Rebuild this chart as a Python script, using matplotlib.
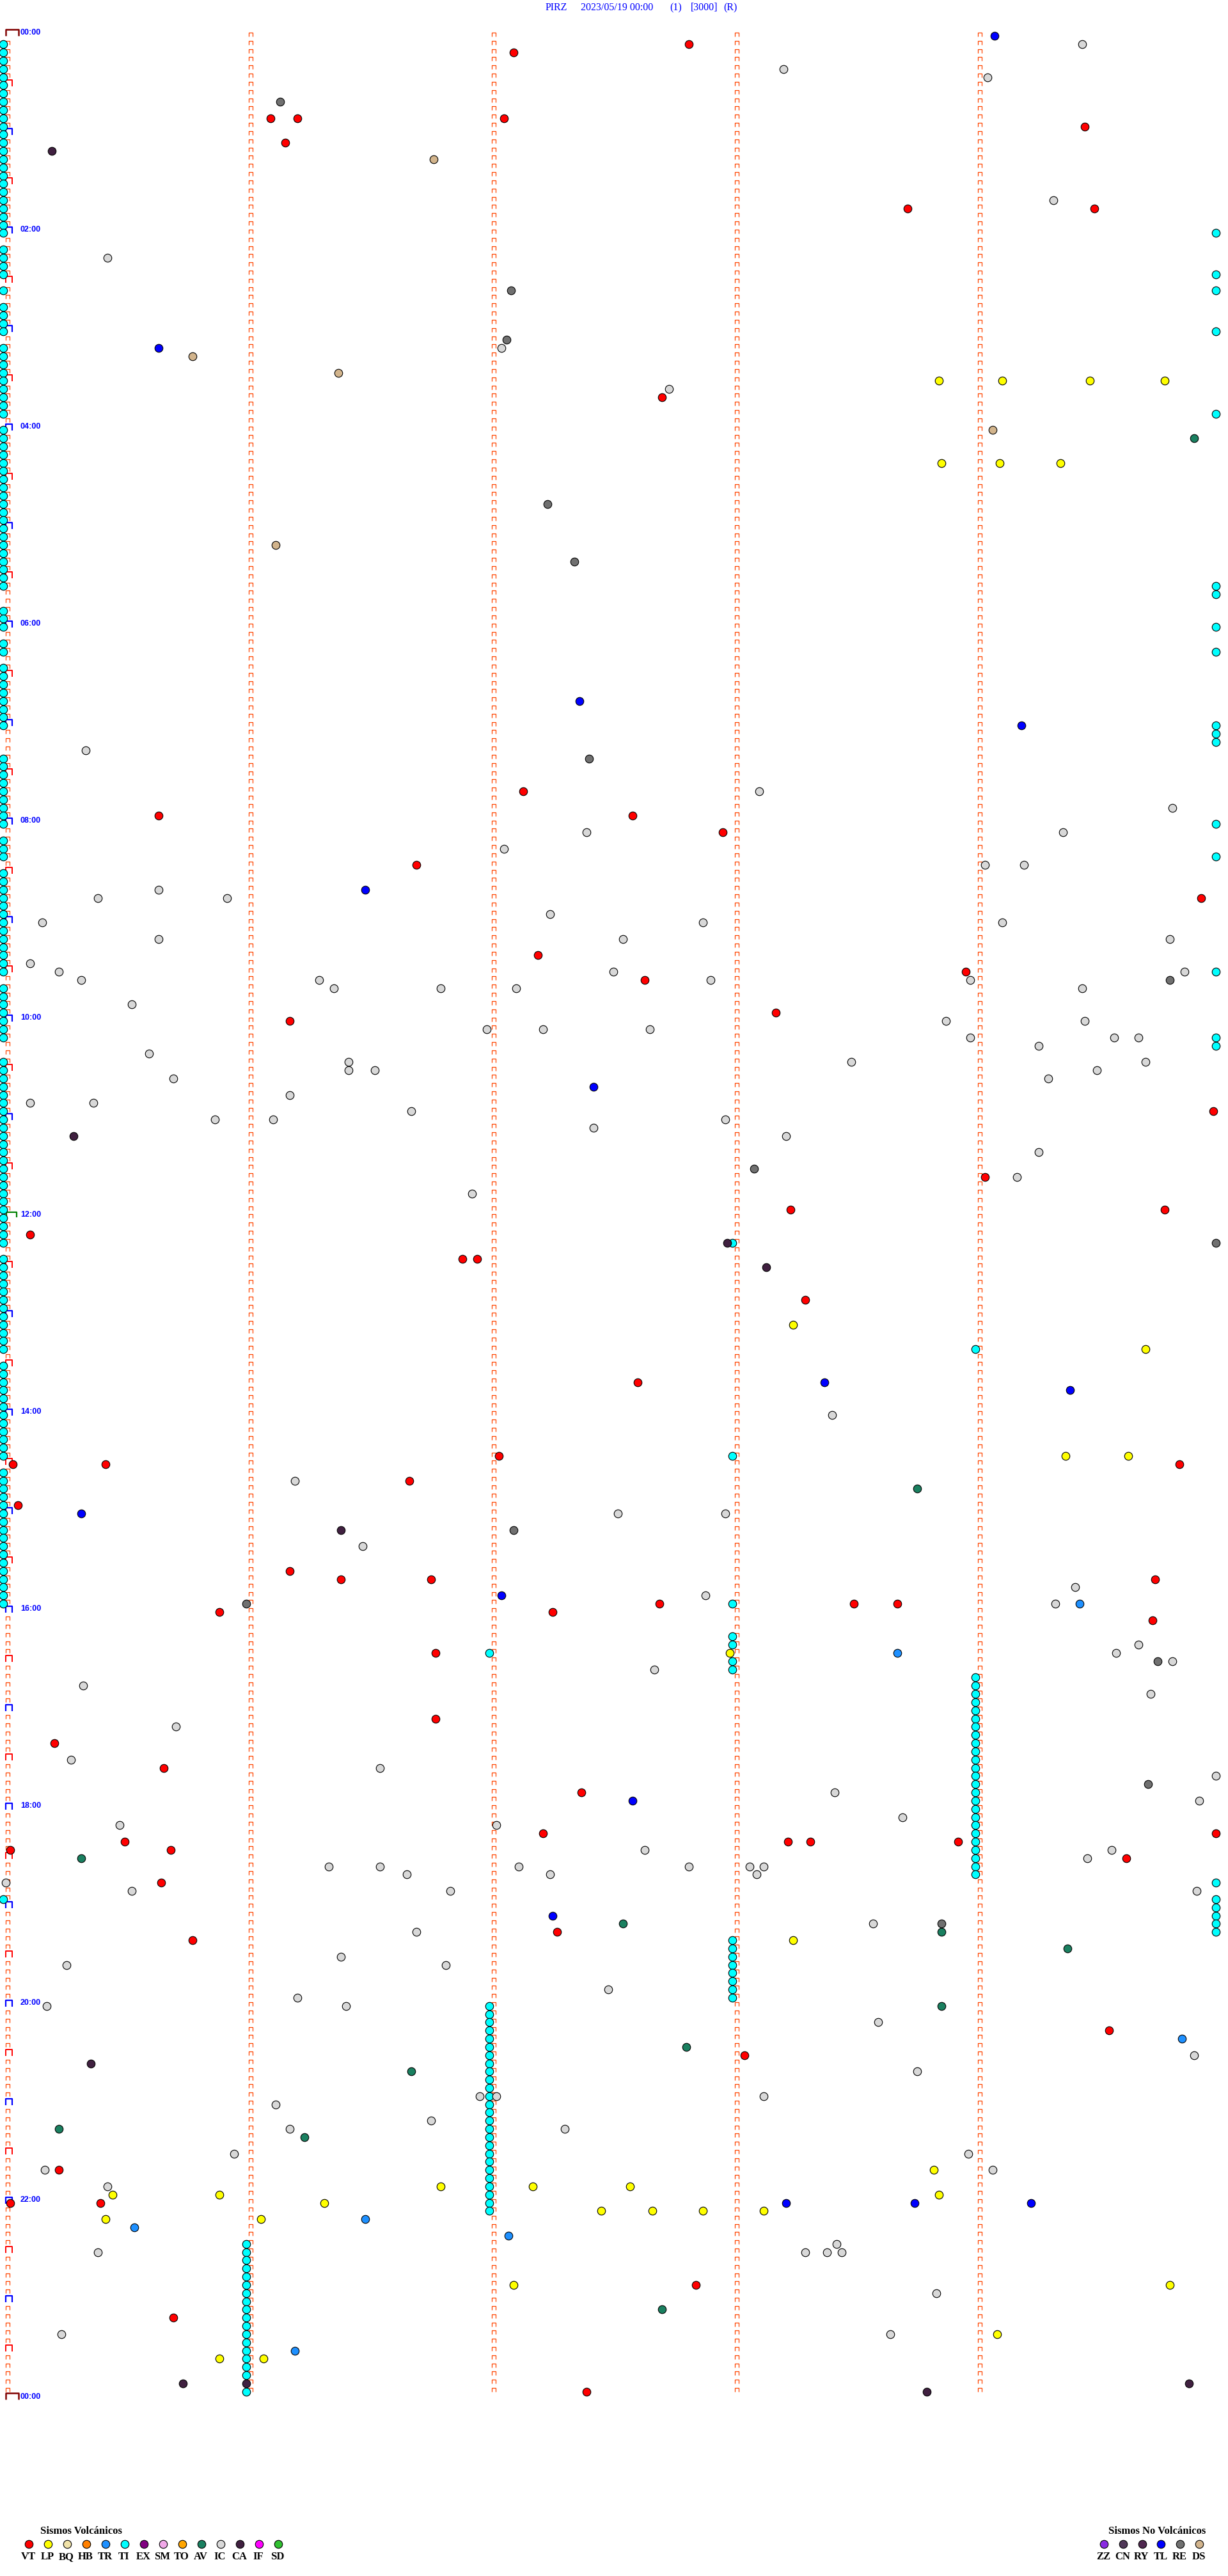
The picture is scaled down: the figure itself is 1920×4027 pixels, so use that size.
import matplotlib.pyplot as plt
from matplotlib.path import Path
import numpy as np

# PIRZ 2023/05/19 - event times in minutes after 00:00
# one row = 5 minutes, x inside a row = minute 0..5
station = "PIRZ"
day = "2023/05/19 00:00"

TI = [5, 10, 15, 20, 25, 30, 35, 40, 45, 50, 55, 60, 65, 70, 75, 80, 85, 90, 95, 100, 105, 110, 115, 120,
      124.99, 130, 135, 140, 145, 149.99, 155, 159.99, 165, 170, 175, 180, 184.99,
      190, 195, 200, 205, 210, 215, 220, 225, 230, 234.99,
      240, 245, 250, 255, 260, 265, 270, 275, 280, 285, 290, 295, 300, 305, 310, 315, 320, 325, 330, 335,
      339.99, 344.99, 350, 355, 360, 364.99, 370, 375, 379.99,
      385, 390, 395, 400, 405, 410, 415, 420, 424.99, 429.99, 434.99,
      440, 445, 450, 455, 460, 465, 470, 475, 480, 484.99, 490, 495, 500, 504.99,
      510, 515, 520, 525, 530, 535, 540, 545, 550, 555, 560, 565, 570, 574.99,
      580, 585, 590, 595, 600, 605, 610, 614.99, 619.99,
      625, 630, 635, 640, 645, 650, 655, 660, 665, 670, 675, 680, 685, 690, 695, 700, 705, 710, 715, 720,
      725, 730, 735, 738,
      745, 750, 755, 760, 765, 770, 775, 780, 785, 790, 795, 800, 804,
      810, 815, 820, 825, 830, 835, 840, 845, 850, 855, 860, 865, 868,
      875, 880, 885, 890, 895, 900, 905, 910, 915, 920, 925, 930, 935, 940, 945, 950, 955, 958,
      978, 983, 987, 993, 998,
      1004, 1009, 1014, 1019, 1024, 1029, 1034, 1039, 1044, 1049, 1054, 1059, 1064, 1069, 1074, 1079,
      1084, 1089, 1094, 1099, 1104, 1109, 1114, 1119, 1124,
      1129.99, 1135, 1139.99, 1144.99, 1149.99, 1154.99, 1159.99,
      1163, 1168, 1173, 1178, 1183, 1188, 1193, 1198,
      1202, 1207, 1212, 1217, 1222, 1227, 1232, 1237, 1242, 1247, 1252, 1257, 1262, 1267, 1272,
      1277, 1282, 1287, 1292, 1297, 1302, 1307, 1312, 1317, 1322, 1327,
      1346, 1351, 1356, 1361, 1366, 1371, 1376, 1381, 1386, 1391, 1396, 1401, 1406, 1411, 1416,
      1421, 1426, 1436]

VT = [7.82, 12.10, 51.10, 51.21, 52.06, 59.45, 66.16, 108.72, 109.49, 222.71, 462.14, 475.64,
      477.59, 487.96, 506.70, 529.93, 562.20, 573.96, 577.64, 598.18, 601.18, 659.98, 699.04,
      718.24, 719.78, 730.11, 746.89, 746.95, 773.30, 822.61, 867.04, 870.04, 870.42, 874.84,
      881.67, 895.06, 936.18, 941.39, 941.76, 944.74, 957.70, 958.50, 958.68, 960.89, 962.26,
      969.73, 986.78, 1026.78, 1040.21, 1055.66, 1072.38, 1097.22, 1099.99, 1100.50, 1103.23,
      1103.32, 1103.93, 1105.03, 1105.69, 1114.62, 1125.65, 1157.28, 1160.78, 1219.55, 1233.05,
      1300.23, 1320.03, 1320.40, 1372.85, 1390.70, 1437.40]

LP = [213.85, 214.11, 214.47, 214.78, 263.86, 264.10, 264.35, 788.25, 804.70, 869.37, 869.63,
      987.99, 1163.25, 1303.83, 1311.80, 1312.18, 1312.58, 1315.45, 1315.89, 1318.85, 1321.32,
      1327.46, 1327.67, 1327.88, 1328.13, 1330.42, 1331.06, 1372.10, 1374.80, 1404.09, 1415.89,
      1416.07]

TR = [959.43, 988.68, 1224.85, 1331.49, 1335.54, 1342.08, 1411.20]

AV = [249.90, 888.76, 1110.32, 1152.55, 1158.86, 1169.38, 1203.86, 1227.81, 1241.68, 1275.23,
      1281.24, 1387.71]

IC = [9.44, 23.21, 29.05, 104.32, 135.43, 192.05, 217.74, 435.34, 463.11, 474.81, 487.40, 489.36,
      497.06, 509.04, 509.20, 520.64, 525.39, 525.92, 537.25, 540.16, 542.88, 544.11, 550.64,
      552.55, 554.80, 565.11, 570.23, 572.51, 574.86, 575.32, 576.30, 577.91, 578.98, 581.36,
      581.80, 582.11, 584.44, 590.53, 603.88, 604.45, 606.99, 607.22, 607.66, 613.98, 614.57,
      614.67, 619.26, 620.60, 626.42, 628.49, 629.70, 631.42, 631.53, 634.50, 635.70, 639.30,
      646.18, 650.11, 650.37, 656.68, 660.87, 661.11, 662.97, 667.43, 673.22, 684.26, 699.17,
      706.93, 843.41, 881.20, 902.53, 902.97, 921.48, 949.41, 952.89, 959.33, 984.67, 989.58,
      994.81, 997.68, 1005.33, 1014.72, 1030.71, 1050.28, 1056.55, 1064.99, 1073.42, 1079.92,
      1088.70, 1090.48, 1092.03, 1107.64, 1109.56, 1114.46, 1116.34, 1116.55, 1117.12, 1117.82,
      1118.07, 1118.13, 1121.66, 1122.25, 1123.10, 1125.01, 1130.53, 1131.84, 1134.91, 1153.58,
      1156.70, 1171.39, 1175.26, 1176.82, 1192.49, 1196.21, 1200.18, 1201.41, 1213.60, 1234.90,
      1243.76, 1256.96, 1257.03, 1258.13, 1261.12, 1271.76, 1276.18, 1277.31, 1290.95, 1293.97,
      1300.17, 1304.07, 1310.43, 1348.43, 1350.39, 1353.30, 1353.39, 1353.45, 1378.84, 1400.24,
      1403.65]

CA = [70.20, 670.29, 737.98, 753.14, 911.39, 1235.36, 1430.74, 1431.00, 1434.88, 1438.80]

RE = [41.14, 157.09, 187.07, 287.24, 322.35, 442.41, 579.80, 693.09, 739.99, 912.10, 956.00,
      994.75, 1069.71, 1153.86]

TL = [4.08, 190.64, 407.37, 424.19, 521.49, 642.43, 823.38, 829.39, 900.32, 952.05, 1077.59,
      1147.26, 1323.22, 1323.75, 1324.23]

DS = [76.77, 195.78, 206.38, 244.07, 311.12]

volc_codes = ["VT", "LP", "BQ", "HB", "TR", "TI", "EX", "SM", "TO", "AV", "IC", "CA", "IF", "SD"]
volc_colors = ["#ff0000", "#ffff00", "#f0e2a8", "#ff8000", "#1e90ff", "#00ffff", "#800080",
               "#f0a8e8", "#ffa500", "#1a8060", "#d8d8d8", "#402040", "#ff00ff", "#30c030"]
novolc_codes = ["ZZ", "CN", "RY", "TL", "RE", "DS"]
novolc_colors = ["#8a2be2", "#503858", "#502850", "#0000ff", "#707070", "#d2b48c"]

color = dict(zip(volc_codes + novolc_codes, volc_colors + novolc_colors))

W, H = 1920, 4027
fig = plt.figure(figsize=(W / 100, H / 100), dpi=100)
top_px, row_px, col_px, left_px = 56.5, 12.83, 380.0, 5.0
ax = fig.add_axes([left_px / W, 1 - (top_px + 288 * row_px) / H, 5 * col_px / W, 288 * row_px / H])
ax.set_xlim(0, 5)
ax.set_ylim(288, 0)
ax.axis("off")

# row markers
brk = Path([(-1, -1), (-1, 1), (1, 1), (1, -1)], [Path.MOVETO, Path.LINETO, Path.LINETO, Path.LINETO])
wbrk = Path([(-2, -1), (-2, 1), (2, 1), (2, -1)], [Path.MOVETO, Path.LINETO, Path.LINETO, Path.LINETO])


def brackets(x, y, mk, ms, lw, col):
    ax.plot(x, y, ls="none", marker=mk, ms=ms, mew=lw, mec=col, mfc="none", color=col,
            clip_on=False, zorder=1)


rows = np.arange(288)
for c in range(1, 5):
    brackets(np.full(288, c + 0.0197), rows - 0.2, brk, 4, 0.9, "#ff4500")
small = np.array([r for r in range(1, 288) if r % 6 != 0])
half = np.array([r for r in range(1, 288) if r % 12 == 6])
hour = np.array([r for r in range(12, 288, 12) if r != 144])
brackets(np.full(len(small), 0.0197), small - 0.2, brk, 4, 0.9, "#ff4500")
brackets(np.full(len(half), 0.0245), half - 0.31, brk, 6.5, 1.4, "#ff0000")
brackets(np.full(len(hour), 0.0245), hour - 0.31, brk, 6.5, 1.6, "#0000ff")
brackets([0.033], [144 - 0.36], wbrk, 11, 1.6, "#008000")
brackets([0.0376, 0.0376], [-0.43, 288 - 0.43], wbrk, 14.4, 1.8, "#800000")
for r in range(0, 289, 24):
    ax.text(0.071, r - 0.39, "%02d:00" % ((r // 12) % 24), color="#0000ff", fontsize=9,
            fontweight="bold", family="Liberation Sans", ha="left", va="center")

# events
events = [("TI", TI), ("IC", IC), ("VT", VT), ("LP", LP), ("TR", TR), ("AV", AV), ("CA", CA),
          ("RE", RE), ("TL", TL), ("DS", DS)]
for code, t in events:
    t = np.array(t, dtype=float)
    row = np.floor(t / 5)
    ax.plot(t - 5 * row, row, ls="none", marker="o", ms=9, mfc=color[code], mec="black", mew=0.8,
            clip_on=False, zorder=3)

# title
ty = 1 - 12.5 / H
for x, s in [(853, station), (908, day), (1047, "(1)"), (1080, "[3000]"), (1131, "(R)")]:
    fig.text(x / W, ty, s, color="#0000ff", fontsize=11.5, family="Liberation Serif", ha="left", va="center")

# legends
lg = fig.add_axes([0, 0, 1, 1])
lg.set_xlim(0, W)
lg.set_ylim(H, 0)
lg.axis("off")
lg.patch.set_alpha(0)
lg.text(63, 3957, "Sismos Volcánicos", fontsize=12, fontweight="bold", family="Liberation Serif",
        ha="left", va="center")
for i, (code, col) in enumerate(zip(volc_codes, volc_colors)):
    x = 45 + 30 * i
    lg.plot([x], [3977], marker="o", ms=9, mfc=col, mec="black", mew=0.8)
    lg.text(x - 1, 3997, code, fontsize=12, fontweight="bold", family="Liberation Serif",
            ha="center", va="center")
lg.text(1733, 3957, "Sismos No Volcánicos", fontsize=12, fontweight="bold", family="Liberation Serif",
        ha="left", va="center")
for i, (code, col) in enumerate(zip(novolc_codes, novolc_colors)):
    x = 1726 + 29.8 * i
    lg.plot([x], [3977], marker="o", ms=9, mfc=col, mec="black", mew=0.8)
    lg.text(x - 1, 3997, code, fontsize=12, fontweight="bold", family="Liberation Serif",
            ha="center", va="center")

plt.savefig("out.png", dpi=100)
